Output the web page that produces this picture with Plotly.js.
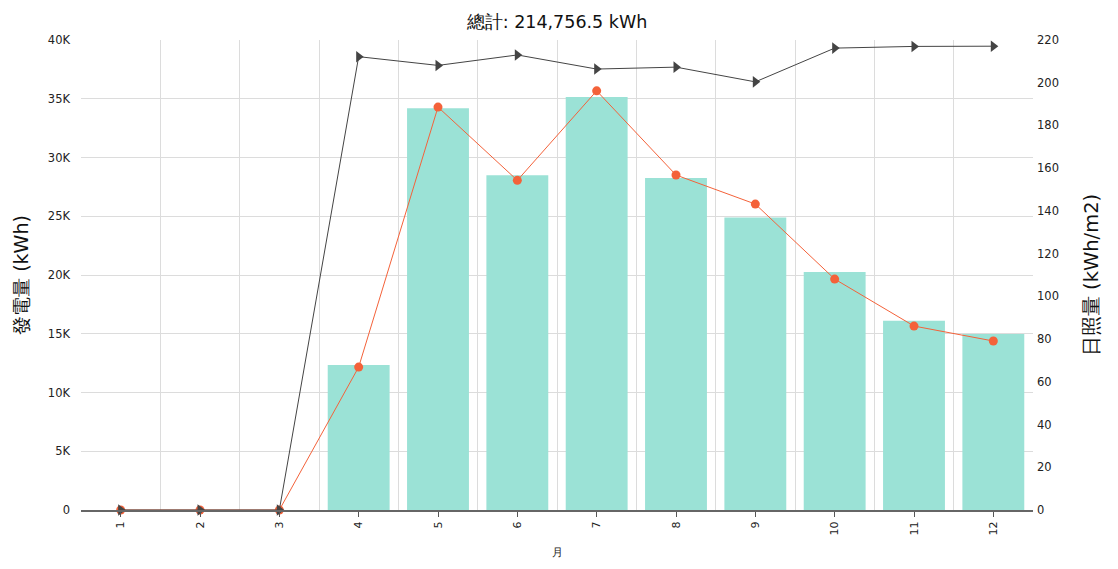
<!DOCTYPE html>
<html>
<head>
<meta charset="utf-8">
<script src="https://cdn.plot.ly/plotly-3.0.1.min.js"></script>
<style>html,body{margin:0;padding:0;background:#fff;}#chart{width:1118px;height:569px;}</style>
</head>
<body>
<div id="chart"></div>
<script>
const months = [1,2,3,4,5,6,7,8,9,10,11,12];
const monthLabels = ['1','2','3','4','5','6','7','8','9','10','11','12'];
const generation = [0,0,0,12340,34200,28500,35150,28260,24900,20260,16100,14980];
const irradiation = [0,0,0,66.9,188.6,154.3,196.2,156.8,143.2,108.1,86.1,79.1];
const secondSeries = [0,0,0,212.2,208.1,213,206.4,207.3,200.4,216.2,217,217.1];
const leftTickVals = [0,5000,10000,15000,20000,25000,30000,35000,40000];
const leftTickText = ['0','5K','10K','15K','20K','25K','30K','35K','40K'];
const rightTickVals = [0,20,40,60,80,100,120,140,160,180,200,220];
const boundaries = [0.5,1.5,2.5,3.5,4.5,5.5,6.5,7.5,8.5,9.5,10.5,11.5,12.5];

const font = 'DejaVu Sans, Verdana, sans-serif';

const traces = [
  {type:'bar', x:months, y:generation, marker:{color:'#9be2d6'}, yaxis:'y', xaxis:'x', hoverinfo:'y'},
  {type:'scatter', mode:'lines+markers', x:months, y:irradiation, yaxis:'y2', xaxis:'x', cliponaxis:false,
   line:{color:'#f4623a', width:1}, marker:{color:'#f4623a', size:9, symbol:'circle'}},
  {type:'scatter', mode:'lines+markers', x:months, y:secondSeries, yaxis:'y2', xaxis:'x', cliponaxis:false,
   line:{color:'#444444', width:1}, marker:{color:'#444444', size:10, symbol:'triangle-right'}}
];

const layout = {
  width:1118, height:569,
  margin:{l:81, r:85, t:40, b:59},
  paper_bgcolor:'#fff', plot_bgcolor:'#fff',
  showlegend:false,
  bargap:0.22,
  font:{family:font, size:11, color:'#222'},
  title:{text:'總計: 214,756.5 kWh', font:{family:font, size:17.5, color:'#111'}, x:0.5, xanchor:'center', xref:'paper', yref:'container', y:1 - 22/569, yanchor:'middle'},
  xaxis:{
    range:[0.5,12.5], tickvals:months, ticktext:monthLabels, tickangle:-90,
    ticks:'outside', ticklen:5, tickcolor:'#555', tickwidth:1,
    showgrid:false, zeroline:false,
    showline:true, linecolor:'#666', linewidth:2,
    minor:{tickvals:boundaries, showgrid:true, gridcolor:'#dcdcdc', gridwidth:1, ticks:''},
    title:{text:'月', font:{family:font, size:11, color:'#222'}, standoff:14},
    tickfont:{family:font, size:11, color:'#222'}
  },
  yaxis:{
    range:[0,40000], tickvals:leftTickVals, ticktext:leftTickText,
    showgrid:true, gridcolor:'#dcdcdc', gridwidth:1, zeroline:false, showline:false,
    ticks:'', ticklabelstandoff:10,
    title:{text:'發電量 (kWh)', font:{family:font, size:19, color:'#111'}, standoff:14},
    tickfont:{family:font, size:11.5, color:'#222'}
  },
  yaxis2:{
    range:[0,220], tickvals:rightTickVals, overlaying:'y', side:'right',
    showgrid:false, zeroline:false, showline:false, ticks:'', ticklabelstandoff:3,
    title:{text:'日照量 (kWh/m2)', font:{family:font, size:19.5, color:'#111'}, standoff:26},
    tickfont:{family:font, size:11.5, color:'#222'}
  }
};

Plotly.newPlot('chart', traces, layout, {displayModeBar:false, staticPlot:true});
</script>
</body>
</html>
